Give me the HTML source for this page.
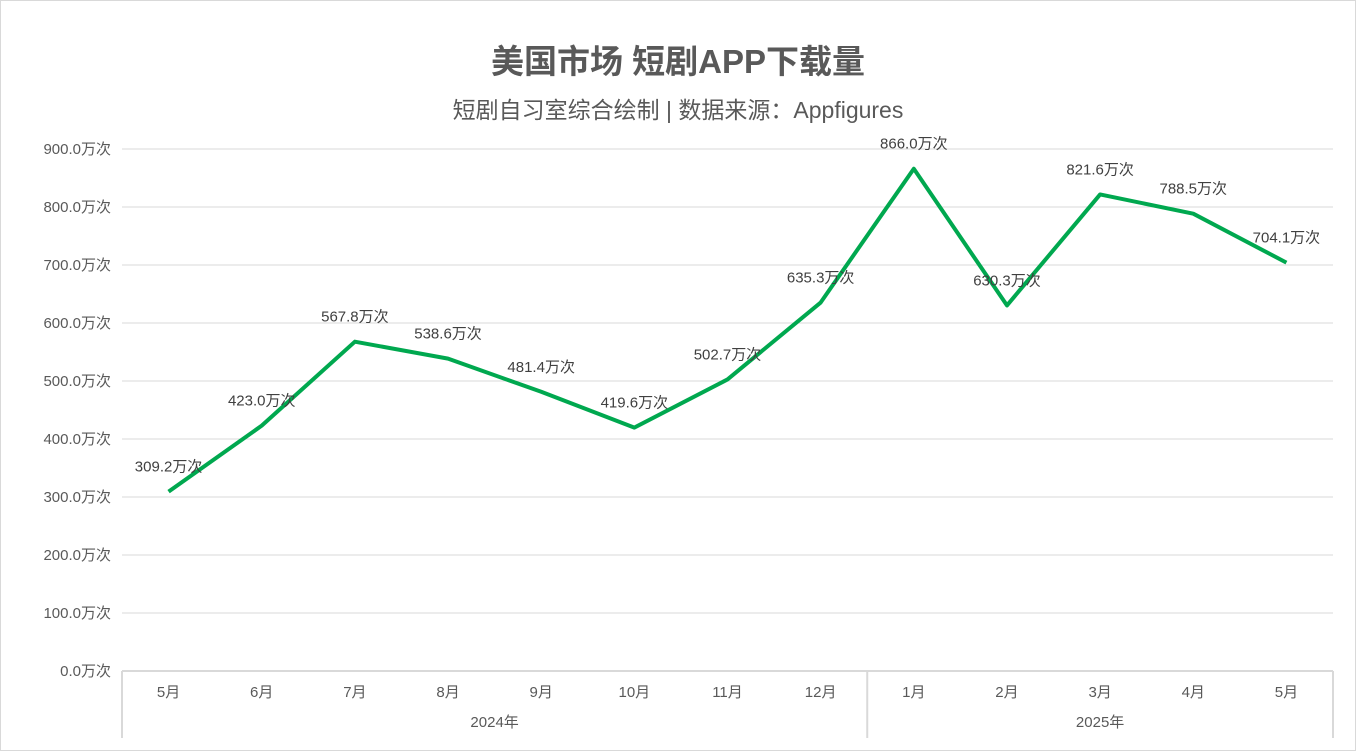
<!DOCTYPE html>
<html><head><meta charset="utf-8"><style>
body{margin:0;background:#fff}
svg text{font-family:"Liberation Sans","Noto Sans CJK SC",sans-serif}
</style></head><body>
<svg id="chart" width="1356" height="751" xmlns="http://www.w3.org/2000/svg">
<rect x="0.5" y="0.5" width="1355" height="750" fill="#fff" stroke="#d9d9d9"/>
<text x="678" y="73" text-anchor="middle" font-size="33" font-weight="bold" fill="#595959">美国市场 短剧APP下载量</text>
<text x="678" y="118" text-anchor="middle" font-size="23" fill="#595959">短剧自习室综合绘制 | 数据来源：Appfigures</text>
<g id="grid"></g><g id="axes"></g><g id="series"></g>
</svg>
<script>
const months=["5月","6月","7月","8月","9月","10月","11月","12月","1月","2月","3月","4月","5月"];
const values=[309.2,423.0,567.8,538.6,481.4,419.6,502.7,635.3,866.0,630.3,821.6,788.5,704.1];
const yTicks=[0,100,200,300,400,500,600,700,800,900];
const years=["2024年","2025年"];
const yearSpans=[8,5];
const NS="http://www.w3.org/2000/svg";
const L=122,R=1333,T=149,B=671,yMax=900;
const bw=(R-L)/months.length;
const x=i=>L+bw*(i+0.5);
const y=v=>B-(v/yMax)*(B-T);
function mk(tag,attrs,parent,txt){const e=document.createElementNS(NS,tag);for(const k in attrs)e.setAttribute(k,attrs[k]);if(txt!==undefined)e.textContent=txt;document.getElementById(parent).appendChild(e);return e;}
yTicks.forEach(t=>{
  if(t>0){const g=mk('line',{x1:L,x2:R,y1:y(t),y2:y(t),stroke:'#d9d9d9','stroke-width':1},'grid');
  
  }
  const lb=mk('text',{x:111,y:y(t)+5,'text-anchor':'end','font-size':15,fill:'#595959'},'axes',t.toFixed(1)+'万次');
  
  
});
const ax=mk('line',{x1:L,x2:R,y1:B,y2:B,stroke:'#d9d9d9','stroke-width':2},'axes');


months.forEach((m,i)=>{
  const t=mk('text',{x:x(i),y:697,'text-anchor':'middle','font-size':15,fill:'#595959'},'axes',m);
  
  
});
let start=0;
const sep=[L];
years.forEach((yr,k)=>{
  const end=start+yearSpans[k];
  sep.push(L+bw*end);
  const t=mk('text',{x:L+bw*(start+end)/2,y:727,'text-anchor':'middle','font-size':15,fill:'#595959'},'axes',yr);
  
  
  start=end;
});
sep.forEach(sx=>{
  const l=mk('line',{x1:sx,x2:sx,y1:B,y2:738,stroke:'#d9d9d9','stroke-width':2},'axes');
  
  
});
const pts=values.map((v,i)=>x(i)+','+y(v)).join(' ');
const pl=mk('polyline',{points:pts,fill:'none',stroke:'#00a84f','stroke-width':4,'stroke-linejoin':'round'},'series');


values.forEach((v,i)=>{
  const t=mk('text',{x:x(i),y:y(v)-20,'text-anchor':'middle','font-size':15,fill:'#404040'},'series',v.toFixed(1)+'万次');
  
  
});
</script>
</body></html>
